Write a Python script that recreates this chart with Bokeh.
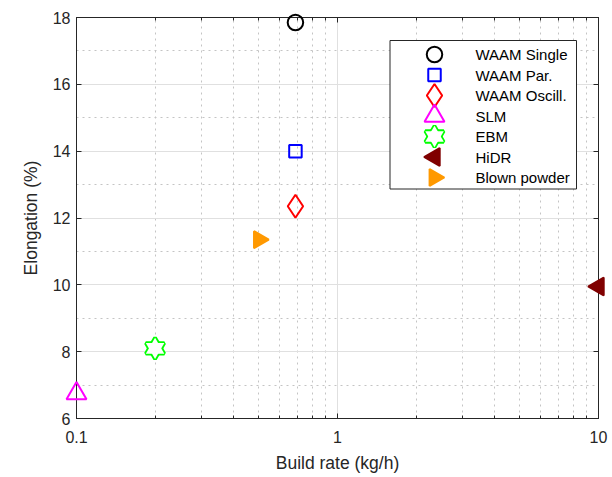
from bokeh.plotting import figure
from bokeh.models import (FixedTicker, LinearAxis, LogAxis, Range1d, ColumnDataSource,
                          LinearScale)
from bokeh.core.properties import value
from bokeh.embed import file_html
from bokeh.resources import INLINE
import math

# ---------------- data ----------------
names = ["WAAM Single", "WAAM Par.", "WAAM Oscill.", "SLM", "EBM", "HiDR", "Blown powder"]
build_rate = [0.69, 0.69, 0.69, 0.1, 0.2, 10.0, 0.5]        # kg/h
elongation = [17.85, 14.0, 12.35, 6.75, 8.1, 9.95, 11.35]    # %

x_ticks = [0.1, 1, 10]
x_tick_labels = ["0.1", "1", "10"]
x_minor_ticks = [0.2, 0.3, 0.4, 0.5, 0.6, 0.7, 0.8, 0.9, 2, 3, 4, 5, 6, 7, 8, 9]
y_ticks = [6, 8, 10, 12, 14, 16, 18]
y_minor_ticks = [7, 9, 11, 13, 15, 17]

# ---------------- styles ----------------
styles = [
    dict(marker="circle", color="#000000", size=15.5, fill=None, angle=0.0),
    dict(marker="square", color="#0000ff", size=12.5, fill=None, angle=0.0),
    dict(marker="diamond", color="#ff0000", size=23, fill=None, angle=0.0),
    dict(marker="triangle", color="#ff00ff", size=20, fill=None, angle=0.0),
    dict(marker="hexagram", color="#00ff00", size=18.5, fill=None, angle=0.0),
    dict(marker="triangle", color="#800000", size=18, fill="#800000", angle=math.pi / 2),
    dict(marker="triangle", color="#ff9900", size=17, fill="#ff9900", angle=-math.pi / 2),
]

FONT = "Liberation Sans"
AXC = "#262626"
FRAME_W, FRAME_H = 522, 401

p = figure(frame_width=FRAME_W, frame_height=FRAME_H, x_axis_type="log",
           x_range=Range1d(x_ticks[0], x_ticks[-1]), y_range=Range1d(y_ticks[0], y_ticks[-1]),
           output_backend="svg", toolbar_location=None,
           min_border_left=76, min_border_right=12, min_border_top=17, min_border_bottom=57)
p.background_fill_color = "white"
p.border_fill_color = "white"
p.outline_line_color = AXC
p.outline_line_width = 1

# linear pixel-like coordinate system (inside the frame) used only to lay out the legend
p.extra_x_ranges = {"leg": Range1d(0, FRAME_W)}
p.extra_y_ranges = {"leg": Range1d(0, FRAME_H)}
p.extra_x_scales = {"leg": LinearScale()}
p.extra_y_scales = {"leg": LinearScale()}

xt = FixedTicker(ticks=x_ticks, minor_ticks=x_minor_ticks)
yt = FixedTicker(ticks=y_ticks, minor_ticks=y_minor_ticks)

xa = p.xaxis[0]
xa.ticker = xt
xa.major_label_overrides = {t: l for t, l in zip(x_ticks, x_tick_labels)}
ya = p.yaxis[0]
ya.ticker = yt

for ax in (xa, ya):
    ax.axis_line_color = AXC
    ax.major_tick_line_color = AXC
    ax.minor_tick_line_color = AXC
    ax.major_tick_in = 5
    ax.major_tick_out = 0
    ax.minor_tick_out = 0
    ax.major_label_text_font = FONT
    ax.major_label_text_font_size = "16px"
    ax.major_label_text_color = AXC
    ax.axis_label_text_font = FONT
    ax.axis_label_text_font_size = "17.5px"
    ax.axis_label_text_font_style = "normal"
    ax.axis_label_text_color = AXC
xa.minor_tick_in = 3
ya.minor_tick_in = 0
xa.axis_label = "Build rate (kg/h)"
ya.axis_label = "Elongation (%)"
xa.major_label_standoff = 12
xa.axis_label_standoff = 7
ya.major_label_standoff = 6
ya.axis_label_standoff = 9

# box axes (top/right) with inward ticks, no visible labels
top = LogAxis(ticker=xt, major_label_text_font_size="1px", major_label_text_color=None,
              major_label_standoff=0,
              major_tick_in=5, major_tick_out=0, minor_tick_in=3, minor_tick_out=0,
              axis_line_color=AXC, major_tick_line_color=AXC, minor_tick_line_color=AXC)
right = LinearAxis(ticker=yt, major_label_text_font_size="1px", major_label_text_color=None,
                   major_label_standoff=0,
                   major_tick_in=5, major_tick_out=0, minor_tick_in=0, minor_tick_out=0,
                   axis_line_color=AXC, major_tick_line_color=AXC, minor_tick_line_color=None)
p.add_layout(top, "above")
p.add_layout(right, "right")

# grids
for g in (p.xgrid[0], p.ygrid[0]):
    g.grid_line_color = "#e0e0e0"
    g.grid_line_width = 1
    g.minor_grid_line_color = "#c4c4c4"
    g.minor_grid_line_dash = "2 4"
    g.minor_grid_line_width = 1


def draw_marker(src, st, **rkw):
    """Draw one MATLAB-like marker; returns list of renderers."""
    rs = []
    if st["marker"] == "hexagram":
        for mk in ("triangle", "inverted_triangle"):
            rs.append(p.scatter("x", "y", source=src, marker=mk, size=st["size"],
                                line_color=st["color"], line_width=3.6, fill_color=None,
                                level="overlay", **rkw))
        for mk in ("triangle", "inverted_triangle"):
            rs.append(p.scatter("x", "y", source=src, marker=mk, size=st["size"],
                                line_color=None, fill_color="white", level="overlay", **rkw))
    else:
        rs.append(p.scatter("x", "y", source=src, marker=st["marker"], size=st["size"],
                            angle=st["angle"], line_color=st["color"], line_width=2,
                            fill_color=st["fill"], level="overlay", **rkw))
    return rs


# ---------------- data markers ----------------
for i, name in enumerate(names):
    src = ColumnDataSource(dict(x=[build_rate[i]], y=[elongation[i]]))
    draw_marker(src, styles[i])

# ---------------- legend (north-east box) ----------------
LEG_BOX = dict(left=313.5, right=500, bottom=229.5, top=378)
LEG_MARKER_X, LEG_TEXT_X = 358, 399
LEG_FIRST_Y, LEG_STEP = 364, 20.5

p.quad(left=[LEG_BOX["left"]], right=[LEG_BOX["right"]], bottom=[LEG_BOX["bottom"]],
       top=[LEG_BOX["top"]], fill_color="white", line_color=AXC, line_width=1,
       x_range_name="leg", y_range_name="leg", level="overlay")

leg_y = [LEG_FIRST_Y - k * LEG_STEP for k in range(len(names))]
for i, name in enumerate(names):
    src = ColumnDataSource(dict(x=[LEG_MARKER_X], y=[leg_y[i]]))
    draw_marker(src, styles[i], x_range_name="leg", y_range_name="leg")

p.text(x=[LEG_TEXT_X] * len(names), y=leg_y, text=names,
       text_font=value(FONT), text_font_size="15px", text_color="#000000",
       text_baseline="middle", text_align="left",
       x_range_name="leg", y_range_name="leg", level="overlay")

open("out.html", "w").write(file_html(p, INLINE))
